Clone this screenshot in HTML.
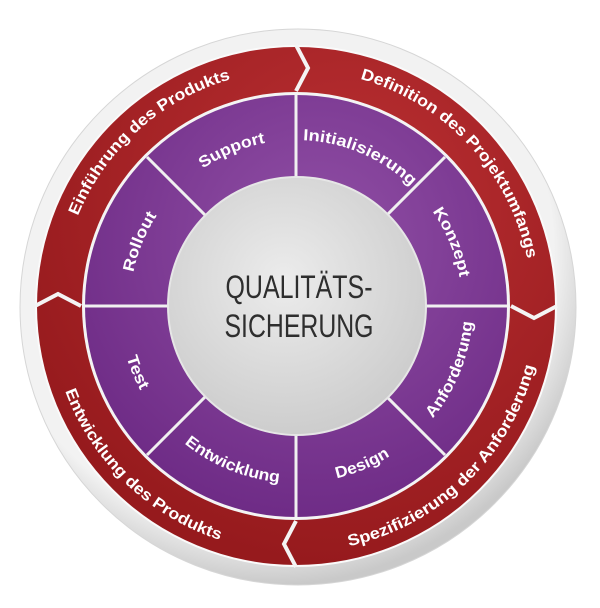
<!DOCTYPE html>
<html><head><meta charset="utf-8"><style>
html,body{margin:0;padding:0;background:#fff;width:600px;height:608px;overflow:hidden}
svg{display:block}
.r{font-family:"Liberation Sans",sans-serif;font-size:16px;font-weight:bold;fill:#fff}
.p{font-family:"Liberation Sans",sans-serif;font-size:16px;font-weight:bold;fill:#fff}
</style></head><body>
<svg width="600" height="608" viewBox="0 0 600 608" xmlns="http://www.w3.org/2000/svg">
<defs>
<radialGradient id="bez" cx="0.45" cy="0.4" r="0.6"><stop offset="0.85" stop-color="#f2f2f2"/><stop offset="1" stop-color="#c9c9c9"/></radialGradient>
<radialGradient id="red" cx="0.6" cy="0.3" r="0.7"><stop offset="0" stop-color="#bb3033"/><stop offset="1" stop-color="#961a1d"/></radialGradient>
<radialGradient id="pur" cx="0.55" cy="0.35" r="0.7"><stop offset="0" stop-color="#9150a6"/><stop offset="1" stop-color="#6c2984"/></radialGradient>
<radialGradient id="ctr" cx="0.45" cy="0.4" r="0.6"><stop offset="0" stop-color="#ececec"/><stop offset="1" stop-color="#cdcdcd"/></radialGradient>
<path id="pcw" d="M296,140 A166,166 0 1 1 296,472 A166,166 0 1 1 296,140"/>
<path id="pccw" d="M296,129 A177,177 0 1 0 296,483 A177,177 0 1 0 296,129"/>
<path id="rcw" d="M296,70 A236,236 0 1 1 296,542 A236,236 0 1 1 296,70"/>
<path id="rccw" d="M296,60 A246,246 0 1 0 296,552 A246,246 0 1 0 296,60"/>
</defs>
<circle cx="298" cy="307" r="278" fill="url(#bez)" stroke="#d6d6d6" stroke-width="1"/>
<circle cx="296" cy="306" r="261" fill="#fafafa"/>
<circle cx="296" cy="306" r="259" fill="url(#red)"/>
<circle cx="296" cy="306" r="214" fill="#f4f4f4"/>
<circle cx="296" cy="306" r="211" fill="url(#pur)"/>
<g stroke="#f4f4f4" stroke-width="4" fill="none" stroke-linejoin="miter">
<polyline points="296,45 308,68 296,91"/>
<polyline points="557,306 534,318 511,306"/>
<polyline points="296,567 284,544 296,521"/>
<polyline points="35,306 58,294 81,306"/>
</g>
<g stroke="#f0f0f0" stroke-width="3">
<line x1="296" y1="95" x2="296" y2="517"/>
<line x1="85" y1="306" x2="507" y2="306"/>
<line x1="147" y1="157" x2="445" y2="455"/>
<line x1="445" y1="157" x2="147" y2="455"/>
</g>
<circle cx="297" cy="306" r="129" fill="url(#ctr)" stroke="#e6e6e6" stroke-width="2"/>
<text class="r" text-anchor="middle"><textPath href="#rcw" startOffset="194" textLength="258" lengthAdjust="spacingAndGlyphs">Definition des Projektumfangs</textPath></text>
<text class="r" text-anchor="middle"><textPath href="#rcw" startOffset="1310" textLength="212" lengthAdjust="spacingAndGlyphs">Einführung des Produkts</textPath></text>
<text class="r" text-anchor="middle"><textPath href="#rccw" startOffset="962" textLength="272" lengthAdjust="spacingAndGlyphs">Spezifizierung der Anforderung</textPath></text>
<text class="r" text-anchor="middle"><textPath href="#rccw" startOffset="584" textLength="222" lengthAdjust="spacingAndGlyphs">Entwicklung des Produkts</textPath></text>
<text class="p" text-anchor="middle"><textPath href="#pcw" startOffset="67" textLength="120" lengthAdjust="spacingAndGlyphs">Initialisierung</textPath></text>
<text class="p" text-anchor="middle"><textPath href="#pcw" startOffset="196" textLength="72" lengthAdjust="spacingAndGlyphs">Konzept</textPath></text>
<text class="p" text-anchor="middle"><textPath href="#pcw" startOffset="847" textLength="62" lengthAdjust="spacingAndGlyphs">Rollout</textPath></text>
<text class="p" text-anchor="middle"><textPath href="#pcw" startOffset="978" textLength="68" lengthAdjust="spacingAndGlyphs">Support</textPath></text>
<text class="p" text-anchor="middle"><textPath href="#pccw" startOffset="765" textLength="106" lengthAdjust="spacingAndGlyphs">Anforderung</textPath></text>
<text class="p" text-anchor="middle"><textPath href="#pccw" startOffset="626" textLength="58" lengthAdjust="spacingAndGlyphs">Design</textPath></text>
<text class="p" text-anchor="middle"><textPath href="#pccw" startOffset="487" textLength="104" lengthAdjust="spacingAndGlyphs">Entwicklung</textPath></text>
<text class="p" text-anchor="middle"><textPath href="#pccw" startOffset="348" textLength="36" lengthAdjust="spacingAndGlyphs">Test</textPath></text>
<text x="299" y="298" text-anchor="middle" font-family="Liberation Sans, sans-serif" font-size="32" fill="#2e2e2e" textLength="147" lengthAdjust="spacingAndGlyphs">QUALITÄTS-</text>
<text x="299" y="337" text-anchor="middle" font-family="Liberation Sans, sans-serif" font-size="32" fill="#2e2e2e" textLength="149" lengthAdjust="spacingAndGlyphs">SICHERUNG</text>
</svg>
</body></html>
